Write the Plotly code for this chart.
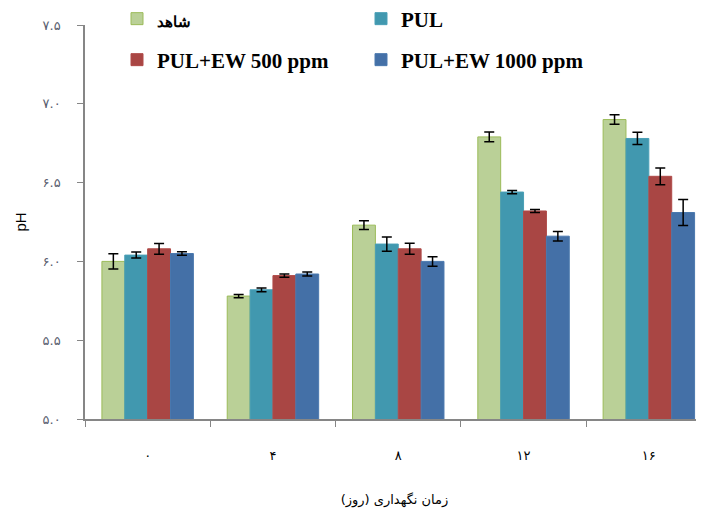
import plotly.graph_objects as go

categories = ["۰", "۴", "۸", "۱۲", "۱۶"]
series_names = ["شاهد", "PUL", "PUL+EW 500 ppm", "PUL+EW 1000 ppm"]
control = [6.00, 5.78, 6.23, 6.79, 6.90]
control_err = [0.048, 0.010, 0.028, 0.031, 0.030]
pul = [6.04, 5.82, 6.11, 6.44, 6.78]
pul_err = [0.019, 0.012, 0.045, 0.010, 0.039]
pul_ew500 = [6.08, 5.91, 6.08, 6.32, 6.54]
pul_ew500_err = [0.034, 0.010, 0.035, 0.010, 0.053]
pul_ew1000 = [6.05, 5.92, 6.00, 6.16, 6.31]
pul_ew1000_err = [0.011, 0.012, 0.030, 0.030, 0.083]
y_ticks = [5.0, 5.5, 6.0, 6.5, 7.0, 7.5]
y_ticktext = ["۵.۰", "۵.۵", "۶.۰", "۶.۵", "۷.۰", "۷.۵"]

values = [control, pul, pul_ew500, pul_ew1000]
errors = [control_err, pul_err, pul_ew500_err, pul_ew1000_err]
fills = ["#BAD097", "#4198AF", "#A94644", "#4470A7"]
edges = ["#9BBB59", "#4A9FB6", "#B04A48", "#4A78AE"]
legends = ["legend", "legend", "legend2", "legend2"]
display_names = ['<span style="font-size:15px">' + series_names[0] + '</span>'] + series_names[1:]

fig = go.Figure()
for name, v, e, fc, lc, lg in zip(display_names, values, errors, fills, edges, legends):
    fig.add_trace(go.Bar(
        x=categories, y=v, name=name, legend=lg,
        marker=dict(color=fc, line=dict(color=lc, width=1)),
        error_y=dict(type="data", array=e, visible=True, color="black",
                     thickness=1.5, width=5),
    ))

legend_common = dict(
    orientation="h", xanchor="left", yanchor="middle",
    xref="container", yref="container",
    entrywidth=199, entrywidthmode="pixels",
    font=dict(family="Liberation Serif", size=21, color="black", weight="bold"),
    bgcolor="rgba(0,0,0,0)", itemwidth=30,
)
fig.update_layout(
    width=704, height=509,
    margin=dict(l=77, r=8, t=17, b=98, autoexpand=False),
    paper_bgcolor="white", plot_bgcolor="white",
    barmode="group", bargap=0.27, bargroupgap=0,
    font=dict(family="Liberation Sans", color="black"),
    legend=dict(x=109 / 704, y=1 - 11 / 509, **legend_common),
    legend2=dict(x=109 / 704, y=1 - 52 / 509, **legend_common),
    xaxis=dict(
        type="category", range=[-0.5, -0.5 + 619 / 125.3],
        tickson="boundaries", ticks="outside", ticklen=6, tickcolor="#868686",
        showline=True, linecolor="#868686", linewidth=1.5,
        showgrid=False, ticklabelstandoff=24,
        tickfont=dict(family="DejaVu Sans", size=13, color="black"),
        title=dict(text="زمان نگهداری (روز)", font=dict(family="DejaVu Sans", size=13, color="black"),
                   standoff=33),
    ),
    yaxis=dict(
        range=[5, 7.5], tickvals=y_ticks, ticktext=y_ticktext,
        ticks="outside", ticklen=6, tickcolor="#868686",
        showline=True, linecolor="#868686", linewidth=1.5,
        showgrid=False, zeroline=False, ticklabelstandoff=14,
        tickfont=dict(family="DejaVu Sans", size=13, color="#5A6070"),
        title=dict(text="pH", font=dict(family="Liberation Sans", size=15, color="black"), standoff=12),
    ),
)
fig.write_html("out.html")
